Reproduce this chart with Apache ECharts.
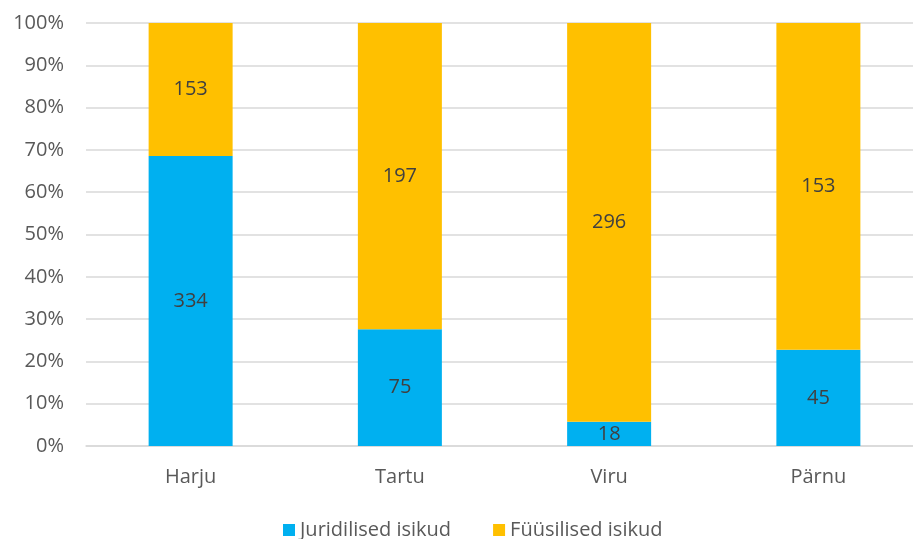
<!DOCTYPE html>
<html>
<head>
<meta charset="utf-8">
<script src="https://cdn.jsdelivr.net/npm/echarts@6/dist/echarts.min.js"></script>
<style>
  html, body { margin: 0; padding: 0; background: #fff; overflow: hidden; }
  #wrap { width: 913px; height: 539px; overflow: hidden; }
  #chart { width: 923px; height: 539px; }
</style>
</head>
<body>
<div id="wrap"><div id="chart"></div></div>
<script>
var regions = ['Harju', 'Tartu', 'Viru', 'Pärnu'];
var juridilised = [334, 75, 18, 45];
var fyysilised = [153, 197, 296, 153];
var yTicks = [0, 10, 20, 30, 40, 50, 60, 70, 80, 90, 100];

// share of each group in a region, in percent
function share(arr, i) {
  var total = juridilised[i] + fyysilised[i];
  return arr[i] / total * 100;
}

var jurPct = juridilised.map(function (v, i) { return share(juridilised, i); });
var fyyPct = fyysilised.map(function (v, i) { return share(fyysilised, i); });

var font = '"Open Sans", sans-serif';

var myChart = echarts.init(document.getElementById('chart'));

function makeLabel(counts) {
  return {
    show: true,
    position: 'inside',
    color: '#404040',
    fontSize: 20,
    fontFamily: font,
    formatter: function (p) { return counts[p.dataIndex]; }
  };
}

myChart.setOption({
  animation: false,
  textStyle: { fontFamily: font },
  grid: { left: 86, top: 23, right: 0, bottom: 93 },
  legend: {
    top: 515,
    left: 278,
    itemWidth: 12,
    itemHeight: 12,
    itemGap: 42,
    icon: 'rect',
    textStyle: { color: '#595959', fontSize: 20, fontFamily: font },
    data: ['Juridilised isikud', 'Füüsilised isikud']
  },
  xAxis: {
    type: 'category',
    data: regions,
    axisLine: { lineStyle: { color: '#d9d9d9', width: 1.5 } },
    axisTick: { show: false },
    axisLabel: { color: '#595959', fontSize: 20, margin: 21, fontFamily: font }
  },
  yAxis: {
    type: 'value',
    min: 0,
    max: 100,
    interval: 10,
    axisLine: { show: false },
    axisTick: { show: false },
    splitLine: { lineStyle: { color: '#d9d9d9', width: 1.5 } },
    axisLabel: {
      color: '#595959',
      fontSize: 20,
      margin: 22,
      fontFamily: font,
      formatter: function (v) { return yTicks.indexOf(v) >= 0 ? v + '%' : ''; }
    }
  },
  series: [
    {
      name: 'Juridilised isikud',
      type: 'bar',
      stack: 'total',
      barWidth: 84,
      itemStyle: { color: '#00B0F0' },
      label: makeLabel(juridilised),
      data: jurPct
    },
    {
      name: 'Füüsilised isikud',
      type: 'bar',
      stack: 'total',
      barWidth: 84,
      itemStyle: { color: '#FFC000' },
      label: makeLabel(fyysilised),
      data: fyyPct
    }
  ]
});
</script>
</body>
</html>
